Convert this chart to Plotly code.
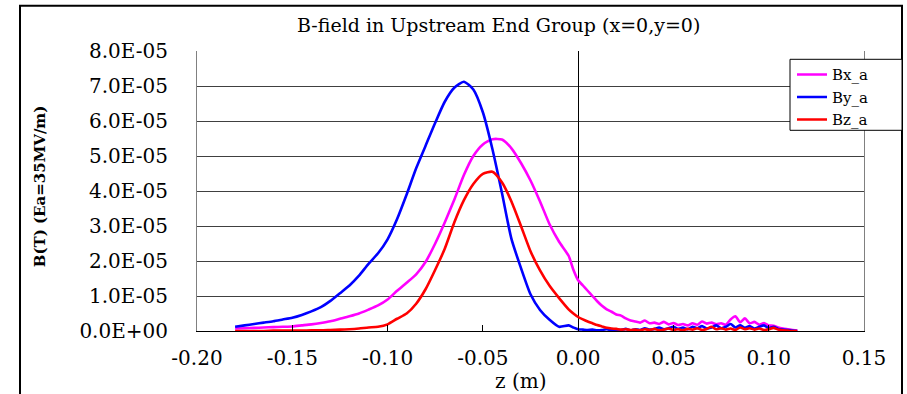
import plotly.graph_objects as go
import numpy as np

# ---------------- data ----------------
z_m = [-0.180, -0.175, -0.170, -0.165, -0.160, -0.155, -0.150, -0.145, -0.140, -0.135,
       -0.130, -0.125, -0.120, -0.115, -0.110, -0.105, -0.100, -0.095, -0.090, -0.085,
       -0.080, -0.075, -0.070, -0.065, -0.060, -0.055, -0.050, -0.045, -0.040, -0.035,
       -0.030, -0.025, -0.020, -0.015, -0.010, -0.005, -0.0025,
       0.0000, 0.0025, 0.0050, 0.0075, 0.0100, 0.0125, 0.0150, 0.0175, 0.0200, 0.0225,
       0.0250, 0.0275, 0.0300, 0.0325, 0.0350, 0.0375, 0.0400, 0.0425, 0.0450, 0.0475,
       0.0500, 0.0525, 0.0550, 0.0575, 0.0600, 0.0625, 0.0650, 0.0675, 0.0700, 0.0725,
       0.0750, 0.0775, 0.0800, 0.0825, 0.0850, 0.0875, 0.0900, 0.0925, 0.0950, 0.0975,
       0.1000, 0.1025, 0.1050, 0.1075, 0.1100, 0.1125, 0.1150]

# values in units of 1e-5 T
bx_a_e5 = [0.07, 0.08, 0.09, 0.10, 0.11, 0.12, 0.13, 0.16, 0.19, 0.23,
           0.28, 0.35, 0.42, 0.50, 0.61, 0.73, 0.90, 1.15, 1.38, 1.62,
           1.98, 2.50, 3.10, 3.75, 4.45, 5.00, 5.33, 5.48, 5.47, 5.22,
           4.80, 4.30, 3.70, 3.05, 2.55, 2.15, 1.75,
           1.45, 1.30, 1.15, 1.00, 0.85, 0.72, 0.62, 0.55, 0.47, 0.44,
           0.36, 0.30, 0.27, 0.24, 0.30, 0.22, 0.24, 0.20, 0.26, 0.19,
           0.23, 0.17, 0.20, 0.16, 0.22, 0.18, 0.27, 0.21, 0.24, 0.19,
           0.22, 0.18, 0.33, 0.42, 0.25, 0.36, 0.22, 0.26, 0.18, 0.23,
           0.16, 0.15, 0.10, 0.07, 0.05, 0.03, 0.01]

by_a_e5 = [0.12, 0.16, 0.20, 0.24, 0.28, 0.33, 0.38, 0.46, 0.56, 0.68,
           0.86, 1.08, 1.30, 1.58, 1.92, 2.22, 2.62, 3.20, 3.90, 4.65,
           5.30, 5.95, 6.55, 6.95, 7.12, 6.90, 6.25, 5.20, 3.95, 2.63,
           1.80, 1.05, 0.60, 0.32, 0.12, 0.16, 0.10,
           0.05, 0.04, 0.03, 0.04, 0.02, 0.03, 0.05, 0.02, 0.04, 0.03,
           0.06, 0.02, 0.05, 0.03, 0.08, 0.04, 0.06, 0.10, 0.05, 0.08,
           0.12, 0.06, 0.10, 0.05, 0.12, 0.08, 0.14, 0.07, 0.10, 0.16,
           0.08, 0.12, 0.20, 0.10, 0.16, 0.09, 0.14, 0.07, 0.12, 0.16,
           0.08, 0.12, 0.06, 0.04, 0.03, 0.01, 0.00]

bz_a_e5 = [0.00, 0.00, 0.00, 0.00, 0.01, 0.01, 0.01, 0.01, 0.02, 0.02,
           0.03, 0.04, 0.05, 0.07, 0.10, 0.12, 0.19, 0.35, 0.50, 0.78,
           1.20, 1.75, 2.35, 3.10, 3.73, 4.20, 4.49, 4.55, 4.25, 3.70,
           3.00, 2.28, 1.73, 1.29, 0.94, 0.62, 0.50,
           0.40, 0.33, 0.27, 0.22, 0.17, 0.13, 0.09, 0.07, 0.06, 0.04,
           0.05, 0.03, 0.04, 0.02, 0.05, 0.03, 0.06, 0.02, 0.04, 0.07,
           0.03, 0.05, 0.02, 0.06, 0.04, 0.08, 0.03, 0.06, 0.12, 0.05,
           0.08, 0.04, 0.07, 0.03, 0.10, 0.05, 0.08, 0.04, 0.07, 0.03,
           0.05, 0.09, 0.04, 0.02, 0.01, 0.00, 0.00]

series_names = ["Bx_a", "By_a", "Bz_a"]
series_colors = ["#FF00FF", "#0000FF", "#FF0000"]

y_tick_vals_e5 = [0, 1, 2, 3, 4, 5, 6, 7, 8]
y_tick_labels = ["0.0E+00", "1.0E-05", "2.0E-05", "3.0E-05", "4.0E-05",
                 "5.0E-05", "6.0E-05", "7.0E-05", "8.0E-05"]
x_tick_vals = [-0.20, -0.15, -0.10, -0.05, 0.00, 0.05, 0.10, 0.15]
x_tick_labels = ["-0.20", "-0.15", "-0.10", "-0.05", "0.00", "0.05", "0.10", "0.15"]

title_text = "B-field in Upstream End Group (x=0,y=0)"
x_title = "z (m)"
y_title = "B(T) (Ea=35MV/m)"

# ---------------- figure ----------------
SCALE = 1e-5
FONT = "DejaVu Serif"

fig = go.Figure()
for name, vals, col in zip(series_names, [bx_a_e5, by_a_e5, bz_a_e5], series_colors):
    fig.add_trace(go.Scatter(
        x=z_m, y=np.array(vals) * SCALE, name=name, mode="lines",
        line=dict(color=col, width=2.6, shape="spline", smoothing=0.6),
        hoverinfo="skip"))

W, H = 907, 394
L, R, T, B = 197, 864, 50.7, 330.7

def px_x(p):
    return (p - L) / (R - L)

def px_y(p):
    return (B - p) / (B - T)

fig.update_layout(
    width=W, height=H,
    margin=dict(l=L, r=W - R, t=T, b=H - B, pad=0),
    paper_bgcolor="white", plot_bgcolor="white",
    font=dict(family=FONT, size=18, color="black"),
    showlegend=True,
    legend=dict(x=px_x(792), y=px_y(58), xanchor="left", yanchor="top",
                borderwidth=0, bgcolor="rgba(0,0,0,0)",
                font=dict(family=FONT, size=15, color="black"),
                tracegroupgap=0),
    xaxis=dict(range=[-0.20, 0.15], tickvals=x_tick_vals, ticktext=x_tick_labels,
               showgrid=False, zeroline=True, zerolinecolor="black", zerolinewidth=1,
               showline=True, linecolor="black", linewidth=1, mirror=False,
               ticks="inside", ticklen=6, tickcolor="black",
               ticklabelstandoff=9,
               tickfont=dict(family=FONT, size=20)),
    yaxis=dict(range=[0, 8 * SCALE], tickvals=[v * SCALE for v in y_tick_vals_e5],
               ticktext=y_tick_labels,
               showgrid=True, gridcolor="#404040", gridwidth=1,
               zeroline=False,
               showline=True, linecolor="#808080", linewidth=1, mirror=True,
               ticks="", ticklabelstandoff=24,
               tickfont=dict(family=FONT, size=20)),
)

# outer chart frame
fig.add_shape(type="rect", xref="paper", yref="paper",
              x0=px_x(20), x1=px_x(902), y0=px_y(5.5), y1=px_y(420),
              line=dict(color="black", width=2), fillcolor="rgba(0,0,0,0)", layer="below")
# legend box
fig.add_shape(type="rect", xref="paper", yref="paper",
              x0=px_x(790), x1=px_x(902), y0=px_y(130), y1=px_y(59),
              line=dict(color="black", width=1), fillcolor="white", layer="above")

fig.add_annotation(text=title_text, xref="paper", yref="paper",
                   x=px_x(498), y=px_y(25), xanchor="center", yanchor="middle",
                   showarrow=False, font=dict(family=FONT, size=19, color="black"))
fig.add_annotation(text=x_title, xref="paper", yref="paper",
                   x=px_x(520), y=px_y(381), xanchor="center", yanchor="middle",
                   showarrow=False, font=dict(family=FONT, size=20, color="black"))
fig.add_annotation(text="<b>" + y_title + "</b>", xref="paper", yref="paper",
                   x=px_x(40), y=px_y(186), xanchor="center", yanchor="middle",
                   textangle=-90, showarrow=False,
                   font=dict(family=FONT, size=15, color="black"))

fig.write_html("out.html")
